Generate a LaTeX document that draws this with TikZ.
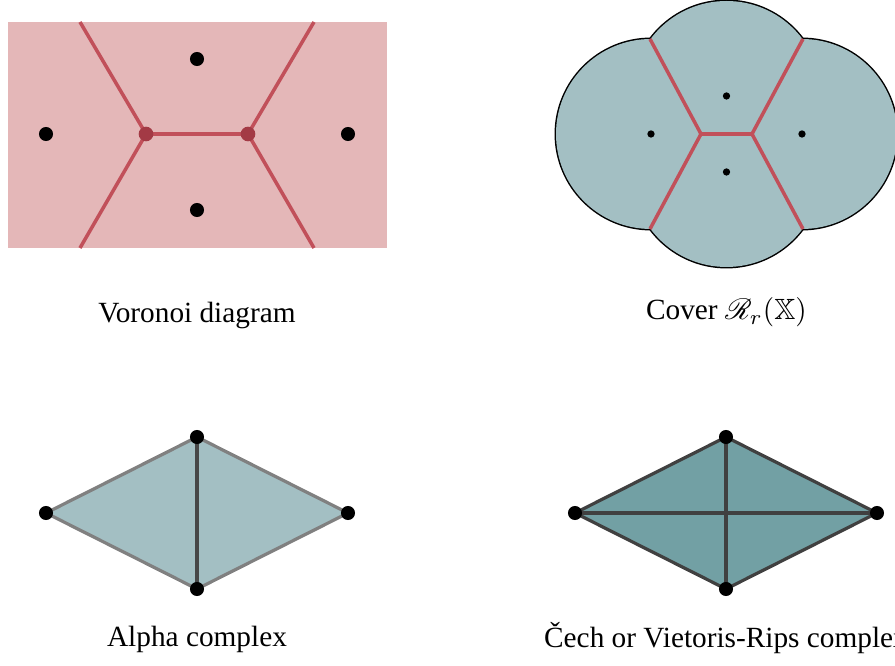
\documentclass[tikz,border=0pt]{standalone}
\usepackage{amssymb,mathrsfs}
\usepackage{fontspec}
\setmainfont{Liberation Serif}
\definecolor{voronoibg}{HTML}{E4B7B8}
\definecolor{voronoiline}{HTML}{C1505A}
\definecolor{voronoivert}{HTML}{A33A45}
\definecolor{coverbg}{HTML}{A3BFC3}
\definecolor{cechbg}{HTML}{72A0A4}
\tikzset{
  site/.style={circle,fill=black,inner sep=0pt,minimum size=4.8pt},
  smallsite/.style={circle,fill=black,inner sep=0pt,minimum size=2.5pt},
  vvert/.style={circle,fill=voronoivert,inner sep=0pt,minimum size=5pt},
  vedge/.style={draw=voronoiline,line width=1.2pt},
  hulledge/.style={draw=black!50,line width=1.1pt},
  inneredge/.style={draw=black!72,line width=1.1pt},
  cechedge/.style={draw=black!75,line width=1.1pt},
  caption/.style={anchor=base,inner sep=0pt}
}
\begin{document}
\begin{tikzpicture}[x=0.3413pt,y=-0.3413pt]
  \useasboundingbox (0,0) rectangle (895,666);

  % Voronoi diagram
  \fill[voronoibg] (8,22) rectangle (387,248);
  \coordinate (vl) at (146,134); \coordinate (vr) at (248,134);
  \coordinate (vtl) at (80,22); \coordinate (vbl) at (80,248);
  \coordinate (vtr) at (314,22); \coordinate (vbr) at (314,248);
  \draw[vedge] (vtl)--(vl)--(vbl); \draw[vedge] (vtr)--(vr)--(vbr);
  \draw[vedge] (vl)--(vr);
  \node[vvert] at (vl) {}; \node[vvert] at (vr) {};
  \node[site] (p1) at (46,134) {};
  \node[site] (p2) at (197,59) {};
  \node[site] (p3) at (197,210) {};
  \node[site] (p4) at (348,134) {};
  \node[caption] (lvor) at (197,323) {Voronoi diagram};

  % cover by balls
  \coordinate (c1) at (651,134); \coordinate (c2) at (726.5,96);
  \coordinate (c3) at (726.5,172); \coordinate (c4) at (802,134);
  \foreach \c in {c1,c2,c3,c4}
    \draw[line width=1pt] (\c) circle[radius=95];
  \foreach \c in {c1,c2,c3,c4}
    \fill[coverbg] (\c) circle[radius=95];
  \coordinate (wl) at (701,134); \coordinate (wr) at (752,134);
  \coordinate (wtl) at (650,39); \coordinate (wbl) at (650,229);
  \coordinate (wtr) at (803,39); \coordinate (wbr) at (803,229);
  \draw[vedge] (wtl)--(wl)--(wbl); \draw[vedge] (wtr)--(wr)--(wbr);
  \draw[vedge] (wl)--(wr);
  \foreach \c in {c1,c2,c3,c4}
    \node[smallsite] at (\c) {};
  \node[caption] (lcov) at (726.5,320) {Cover $\mathscr{R}_r(\mathbb{X})$};

  % Alpha complex
  \coordinate (a1) at (46,513); \coordinate (a2) at (197,437);
  \coordinate (a3) at (197,589); \coordinate (a4) at (348,513);
  \fill[coverbg] (a1)--(a2)--(a4)--(a3)--cycle;
  \draw[hulledge] (a1)--(a2)--(a4)--(a3)--cycle;
  \draw[inneredge] (a2)--(a3);
  \foreach \c in {a1,a2,a3,a4}
    \node[site] at (\c) {};
  \node[caption] (lalp) at (197,647) {Alpha complex};

  % Cech / Rips complex
  \coordinate (b1) at (575,513); \coordinate (b2) at (726,437);
  \coordinate (b3) at (726,589); \coordinate (b4) at (877,513);
  \fill[cechbg] (b1)--(b2)--(b4)--(b3)--cycle;
  \draw[cechedge] (b1)--(b2)--(b4)--(b3)--cycle;
  \draw[cechedge] (b2)--(b3); \draw[cechedge] (b1)--(b4);
  \foreach \c in {b1,b2,b3,b4}
    \node[site] at (\c) {};
  \node[caption] (lcech) at (726,648) {Čech or Vietoris-Rips complex};
\end{tikzpicture}
\end{document}
